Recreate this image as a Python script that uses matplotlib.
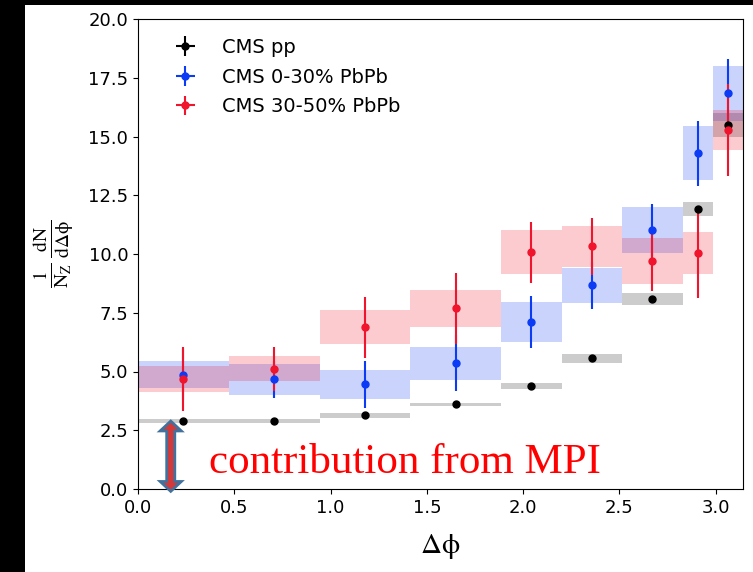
import numpy as np
import matplotlib
matplotlib.use("Agg")
import matplotlib.pyplot as plt
import matplotlib.patches as mpatches

# bin edges in units of pi
edge_frac = [0, 0.15, 0.3, 0.45, 0.6, 0.7, 0.8, 0.9, 0.95, 1.0]

pp_y = [2.89, 2.89, 3.14, 3.60, 4.37, 5.56, 8.08, 11.93, 15.49]
pp_err = [0.0, 0.0, 0.0, 0.0, 0.0, 0.0, 0.0, 0.0, 0.0]
pp_sys = [0.10, 0.10, 0.10, 0.07, 0.13, 0.20, 0.25, 0.30, 0.50]

c030_y = [4.87, 4.66, 4.45, 5.35, 7.10, 8.66, 11.03, 14.28, 16.83]
c030_err = [1.10, 0.80, 1.00, 1.20, 1.10, 1.00, 1.10, 1.40, 1.45]
c030_sys = [0.56, 0.65, 0.63, 0.70, 0.85, 0.76, 0.99, 1.15, 1.15]

c3050_y = [4.68, 5.11, 6.88, 7.69, 10.08, 10.32, 9.71, 10.03, 15.29]
c3050_err = [1.35, 0.95, 1.30, 1.50, 1.30, 1.20, 1.30, 1.90, 1.95]
c3050_sys = [0.57, 0.53, 0.73, 0.78, 0.95, 0.87, 0.97, 0.90, 0.85]

BLUE = "#0b3bf5"
RED = "#f0142d"


def plot_series(ax, y, err, sys_, color, band_color, band_alpha, label):
	edges = np.array(edge_frac) * np.pi
	lo = edges[:-1]
	w = np.diff(edges)
	x = lo + w / 2
	y = np.array(y)
	sys_ = np.array(sys_)
	ax.bar(lo, 2 * sys_, width=w, bottom=y - sys_, align="edge",
		color=band_color, alpha=band_alpha, linewidth=0, zorder=1)
	ax.errorbar(x, y, yerr=err, xerr=0, fmt="o", color=color, ms=5,
		elinewidth=1.5, capsize=0, label=label, zorder=3)


def double_arrow(ax, x, y0, y1, shaft=0.021, head=0.055, head_len=0.42):
	# vertical double-headed block arrow, widths in data units
	pts = [(x, y0), (x + head, y0 + head_len), (x + shaft, y0 + head_len),
		(x + shaft, y1 - head_len), (x + head, y1 - head_len), (x, y1),
		(x - head, y1 - head_len), (x - shaft, y1 - head_len),
		(x - shaft, y0 + head_len), (x - head, y0 + head_len)]
	poly = mpatches.Polygon(pts, closed=True, facecolor="#d43838",
		edgecolor="#41719c", linewidth=2, joinstyle="miter", zorder=4,
		clip_on=False)
	ax.add_patch(poly)


def main():
	plt.rcParams["mathtext.fontset"] = "stix"
	fig = plt.figure(figsize=(7.53, 5.72), dpi=100, facecolor="black")
	fig.patches.append(mpatches.Rectangle((25 / 753, 0), 1, 1 - 5 / 572,
		transform=fig.transFigure, facecolor="white", edgecolor="none", zorder=-1))
	ax = fig.add_axes([138 / 753, 1 - 489 / 572, (743 - 138) / 753, (489 - 19) / 572])

	plot_series(ax, pp_y, pp_err, pp_sys, "black", "black", 0.2, "CMS pp")
	plot_series(ax, c030_y, c030_err, c030_sys, BLUE, BLUE, 0.22, "CMS 0-30% PbPb")
	plot_series(ax, c3050_y, c3050_err, c3050_sys, RED, RED, 0.22, "CMS 30-50% PbPb")

	ax.set_xlim(0, np.pi)
	ax.set_ylim(0, 20)
	ax.set_xticks(np.arange(0, 3.01, 0.5))
	ax.set_yticks(np.arange(0, 20.01, 2.5))
	ax.tick_params(labelsize=13)

	ax.set_xlabel(r"$\mathrm{\Delta\phi}$", fontsize=21, labelpad=11)
	ax.set_ylabel(r"$\frac{1}{\mathrm{N_Z}}\,\frac{\mathrm{dN}}{\mathrm{d\Delta\phi}}$",
		fontsize=20, labelpad=9)

	ax.legend(loc="upper left", frameon=False, fontsize=14,
		bbox_to_anchor=(0.017, 0.997), labelspacing=0.55, handletextpad=0.9)

	double_arrow(ax, 0.17, -0.1, pp_y[0])
	ax.text(0.37, 1.12, "contribution from MPI", color="red", fontsize=31,
		family="Liberation Serif", va="center", ha="left")

	fig.savefig("out.png", dpi=100, facecolor=fig.get_facecolor())


if __name__ == '__main__':
	main()
